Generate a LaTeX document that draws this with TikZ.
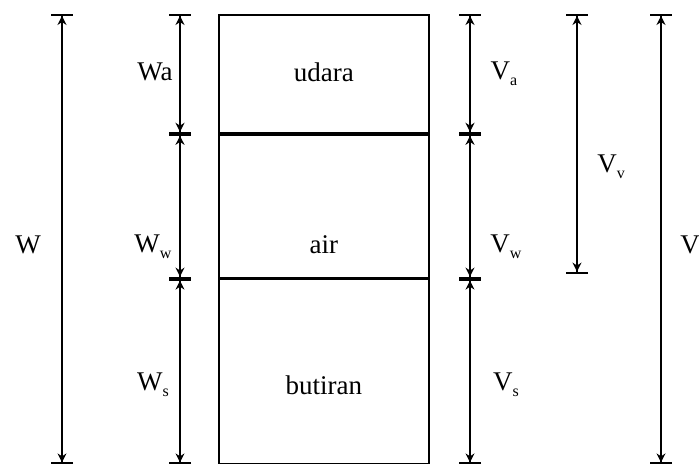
\documentclass[tikz,border=0pt]{standalone}
\usepackage{fontspec}
\setmainfont{Liberation Serif}
\usetikzlibrary{arrows.meta}
\newcommand{\lowidx}[1]{\raisebox{-0.45ex}{\fontsize{16}{16}\selectfont #1}}

\begin{document}
\begin{tikzpicture}[
    x=1pt, y=-1pt,
    layer/.style={rectangle, draw=black, line width=1.8pt, minimum width=210pt, inner sep=0pt},
    dim/.style={line width=1.8pt, {Bar[width=22pt,line width=2pt]Stealth[length=9pt,width=9pt]}-{Stealth[length=9pt,width=9pt]Bar[width=22pt,line width=2pt]}},
    lbl/.style={font=\fontsize{27}{27}\selectfont}
]
\useasboundingbox (0,0) rectangle (699,464);

% soil column
\node[layer, minimum height=118pt, anchor=north west] (udara) at (218,14) {};
\node[layer, minimum height=143pt, anchor=north] (air) at (udara.south) {};
\node[layer, minimum height=184pt, anchor=north] (butiran) at (air.south) {};

% dimension columns
\coordinate (wx) at (62,0);
\coordinate (wsx) at (180,0);
\coordinate (vsx) at (470,0);
\coordinate (vvx) at (577,0);
\coordinate (vx) at (661,0);

\draw[dim] (wx |- udara.north) -- (wx |- butiran.south);
\draw[dim] (wsx |- udara.north) -- (wsx |- udara.south);
\draw[dim] (wsx |- air.north) -- (wsx |- air.south);
\draw[dim] (wsx |- butiran.north) -- (wsx |- butiran.south);
\draw[dim] (vsx |- udara.north) -- (vsx |- udara.south);
\draw[dim] (vsx |- air.north) -- (vsx |- air.south);
\draw[dim] (vsx |- butiran.north) -- (vsx |- butiran.south);
\draw[dim] (vvx |- udara.north) -- ([yshift=5pt]vvx |- air.south);
\draw[dim] (vx |- udara.north) -- (vx |- butiran.south);

% labels
\node[lbl] (W) at (28,245) {W};
\node[lbl] (Wa) at (155,72) {Wa};
\node[lbl] (Ww) at (153,247) {W\lowidx{w}};
\node[lbl] (Ws) at (153,385) {W\lowidx{s}};
\node[lbl] (Va) at (504,74) {V\lowidx{a}};
\node[lbl] (Vw) at (506,247) {V\lowidx{w}};
\node[lbl] (Vs) at (506,385) {V\lowidx{s}};
\node[lbl] (Vv) at (611,167) {V\lowidx{v}};
\node[lbl] (V) at (690,245) {V};
\node[lbl] (udaratxt) at (udara.center |- Wa) {udara};
\node[lbl] (airtxt) at (udara.center |- W) {air};
\node[lbl] (butirantxt) at (udara.center |- Ws) {butiran};
\end{tikzpicture}
\end{document}
